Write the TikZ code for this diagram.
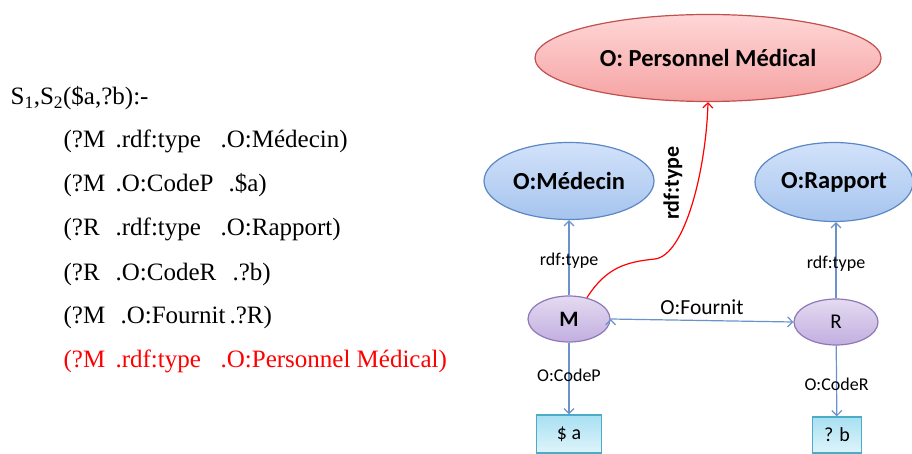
\documentclass[tikz,border=0pt]{standalone}
\usepackage{fontspec}
\setmainfont{Liberation Serif}
\newfontfamily\calibri{Carlito}
\usetikzlibrary{arrows.meta, shapes.geometric}
\definecolor{bordbleu}{HTML}{5B87C5}
\definecolor{fleche}{HTML}{6A93CC}
\definecolor{bordrouge}{HTML}{C0504D}
\definecolor{bordviolet}{HTML}{8F78B8}
\definecolor{bordcyan}{HTML}{4BACC6}
\tikzset{>={Straight Barb[length=5pt,width=10pt]},
	classe/.style={ellipse, draw=bordbleu, top color={rgb,255:red,210;green,226;blue,250}, bottom color={rgb,255:red,166;green,196;blue,238}, font=\calibri\bfseries\fontsize{24.5}{28}\selectfont},
	ressource/.style={ellipse, draw=bordviolet, top color={rgb,255:red,228;green,219;blue,241}, bottom color={rgb,255:red,194;green,174;blue,224}, font=\calibri\fontsize{21}{24}\selectfont},
	valeur/.style={rectangle, draw=bordcyan, top color={rgb,255:red,168;green,224;blue,242}, bottom color={rgb,255:red,223;green,244;blue,251}, font=\calibri\fontsize{20}{24}\selectfont},
	etiq/.style={text=black, font=\calibri\fontsize{18}{22}\selectfont},
	ligne/.style={anchor=base west, font=\fontsize{25}{30}\selectfont}}
\newcommand\trip[3]{\makebox[52pt][l]{#1}\makebox[105pt][l]{#2}#3}

\begin{document}
\begin{tikzpicture}[x=1pt, y=-1pt, line width=1.2pt, every node/.style={inner sep=0pt}]
	\useasboundingbox (0,0) rectangle (912,454);
	% la requete
	\node[ligne] (l0) at (10,105) {S\textsubscript{1},S\textsubscript{2}(\$a,?b):-};
	\node[ligne] (l1) at (63,148) {\trip{(?M}{.rdf:type}{.O:Médecin)}};
	\node[ligne] (l2) at (63,192) {\trip{(?M}{.O:CodeP}{\hspace{8pt}.\$a)}};
	\node[ligne] (l3) at (63,236) {\trip{(?R}{.rdf:type}{.O:Rapport)}};
	\node[ligne] (l4) at (63,280) {\trip{(?R}{.O:CodeR}{\hspace{12pt}.?b)}};
	\node[ligne] (l5) at (63,323) {\makebox[57pt][l]{(?M}.O:Fournit\,.?R)};
	\node[ligne, red] (l6) at (63,367) {\trip{(?M}{.rdf:type}{.O:Personnel Médical)}};
	% le graphe
	\node[classe, draw=bordrouge, top color={rgb,255:red,255;green,214;blue,214}, bottom color={rgb,255:red,245;green,163;blue,163}, minimum width=346pt, minimum height=87pt] at (708,58) (PM) {O: Personnel Médical};
	\node[classe, minimum width=170pt, minimum height=77pt] at (569,181) (Med) {O:Médecin};
	\node[classe, minimum width=158pt, minimum height=79pt] at (834,182) (Rap) {O:Rapport};
	\node[ressource, minimum width=82pt, minimum height=46pt, font=\calibri\bfseries\fontsize{22}{24}\selectfont] at (569,319) (M) {M};
	\node[ressource, minimum width=84pt, minimum height=46pt] at (836,322) (R) {R};
	\node[valeur, minimum width=65pt, minimum height=38pt] at (569,434) (a) {\$ a};
	\node[valeur, minimum width=49pt, minimum height=36pt] at (837,435) (b) {? b};
	\draw[->, fleche]
		(M) edge node[etiq, yshift=-3pt]{rdf:type} (Med)
		(R.north) edge node[etiq, yshift=-3pt]{rdf:type} (R.north |- Rap.south)
		(M.east) edge node[etiq, font=\calibri\fontsize{21.5}{24}\selectfont, above=5pt]{O:Fournit} (R.west)
		(M) edge node[etiq, yshift=3pt]{O:CodeP} (a)
		(R) edge node[etiq, yshift=-3pt]{O:CodeR} (b);
	\coordinate (coude) at (655,259);
	\draw[->, red] (M.50) .. controls (606,268) and (625,262) .. (coude) .. controls (685,255) and (706,170) .. (PM.south);
	\node[rotate=90, font=\calibri\bfseries\fontsize{22}{26}\selectfont] at (673,183) (lbl) {rdf:type};
\end{tikzpicture}
\end{document}
